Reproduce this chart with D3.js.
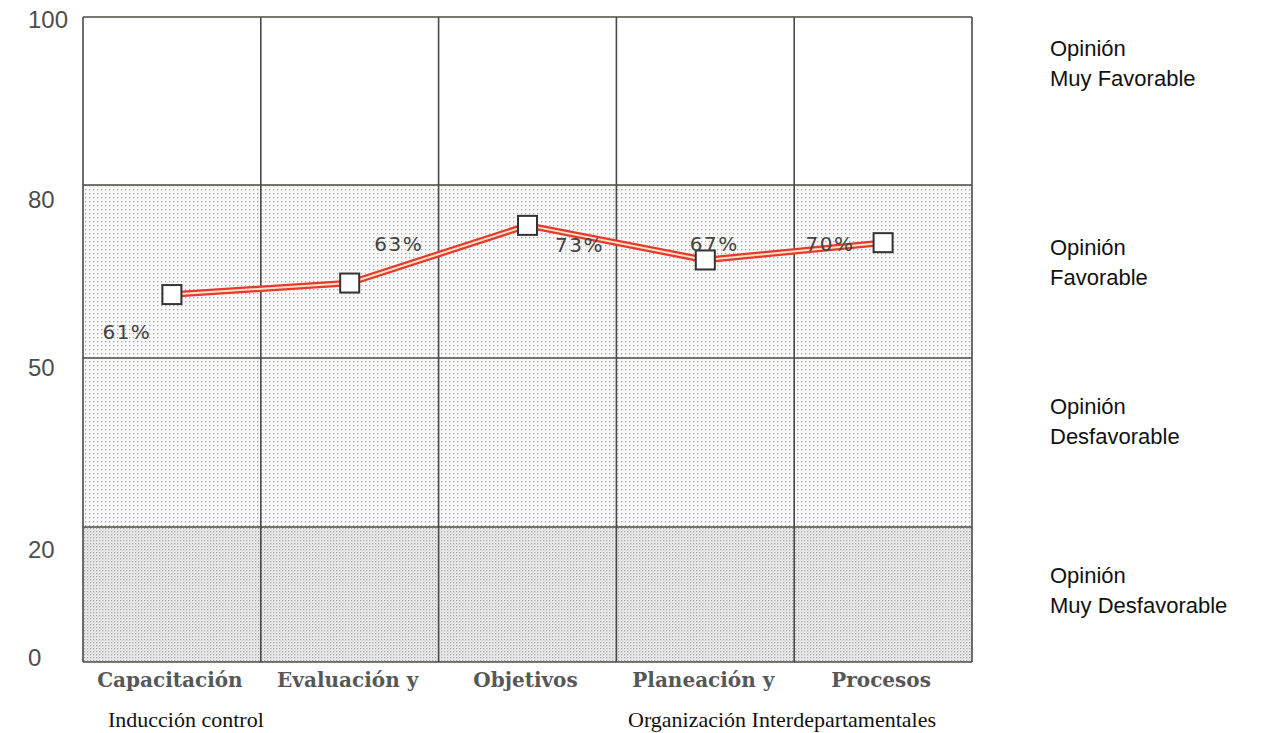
<!DOCTYPE html>
<html>
<head>
<meta charset="utf-8">
<script src="https://cdn.jsdelivr.net/npm/d3@7"></script>
<style>
  html, body { margin: 0; padding: 0; background: #fff; }
  svg { display: block; }
</style>
</head>
<body>
<svg id="chart" width="1282" height="733"></svg>
<script>
// Survey areas and the favourable-opinion percentage for each
const categories = ["Capacitación", "Evaluación y", "Objetivos", "Planeación y", "Procesos"];
const values = [61, 63, 73, 67, 70];
const valueLabels = ["61%", "63%", "73%", "67%", "70%"];
const secondLine = ["Inducción control", "Organización Interdepartamentales"];

// Opinion bands (upper bound -> lower bound) and their names
const bandBreaks = [100, 80, 50, 20, 0];
const tickValues = [100, 80, 50, 20, 0];
const bandNames = [
  ["Opinión", "Muy Favorable"],
  ["Opinión", "Favorable"],
  ["Opinión", "Desfavorable"],
  ["Opinión", "Muy Desfavorable"]
];

const svg = d3.select("#chart");
const plotLeft = 83, plotRight = 972, plotTop = 17, plotBottom = 662;

// Piecewise scale: each opinion band gets its own vertical block
const y = d3.scaleLinear()
  .domain([0, 20, 50, 80, 100])
  .range([plotBottom, 527, 358, 185, plotTop]);

const x = d3.scaleBand().domain(categories).range([plotLeft, plotRight]).padding(0);

// Fill patterns for the bands
const defs = svg.append("defs");
const light = defs.append("pattern").attr("id", "dotsLight")
  .attr("patternUnits", "userSpaceOnUse").attr("width", 4).attr("height", 4);
light.append("rect").attr("width", 4).attr("height", 4).attr("fill", "#f9f9f9");
light.append("rect").attr("x", 1).attr("y", 1).attr("width", 1.3).attr("height", 1.3).attr("fill", "#a6a6a6");

const dense = defs.append("pattern").attr("id", "dotsDense")
  .attr("patternUnits", "userSpaceOnUse").attr("width", 3).attr("height", 3);
dense.append("rect").attr("width", 3).attr("height", 3).attr("fill", "#f1f1f1");
dense.append("rect").attr("x", 0).attr("y", 0).attr("width", 1.3).attr("height", 1.3).attr("fill", "#a4a4a4");
dense.append("rect").attr("x", 1.5).attr("y", 1.5).attr("width", 1.1).attr("height", 1.1).attr("fill", "#c4c4c4");

const bandFills = ["#ffffff", "url(#dotsLight)", "url(#dotsLight)", "url(#dotsDense)"];
const bands = d3.pairs(bandBreaks);

svg.append("g").selectAll("rect")
  .data(bands)
  .join("rect")
  .attr("x", plotLeft)
  .attr("width", plotRight - plotLeft)
  .attr("y", d => y(d[0]))
  .attr("height", d => y(d[1]) - y(d[0]))
  .attr("fill", (d, i) => bandFills[i]);

// Grid: horizontal band edges and vertical column separators
const grid = svg.append("g").attr("stroke", "#4a4a44").attr("stroke-width", 1.6).attr("fill", "none");
grid.selectAll("line.h")
  .data(bandBreaks)
  .join("line")
  .attr("class", "h")
  .attr("x1", plotLeft).attr("x2", plotRight)
  .attr("y1", d => y(d)).attr("y2", d => y(d));
const colEdges = categories.map(c => x(c)).concat([plotRight]);
grid.selectAll("line.v")
  .data(colEdges)
  .join("line")
  .attr("class", "v")
  .attr("x1", d => d).attr("x2", d => d)
  .attr("y1", plotTop).attr("y2", plotBottom);

// Y tick labels, each nudged a little below its band edge
const tickNudge = [3, 15, 10, 23, -4];
svg.append("g").selectAll("text")
  .data(tickValues)
  .join("text")
  .attr("x", 28)
  .attr("y", (d, i) => y(d) + tickNudge[i])
  .attr("dy", "0.35em")
  .attr("font-family", "Liberation Sans, Arial, sans-serif")
  .attr("font-size", 24)
  .attr("fill", "#4d4d4d")
  .text(d => d);

// Category labels
svg.append("g").selectAll("text")
  .data(categories)
  .join("text")
  .attr("x", d => x(d) + x.bandwidth() / 2 - 2)
  .attr("y", 687)
  .attr("text-anchor", "middle")
  .attr("font-family", "DejaVu Serif, serif")
  .attr("font-weight", "bold")
  .attr("font-size", 20)
  .attr("fill", "#575757")
  .text(d => d);

// Second line of the category names
svg.append("text")
  .attr("x", 108).attr("y", 727)
  .attr("font-family", "Liberation Serif, Times New Roman, serif")
  .attr("font-size", 22).attr("fill", "#111")
  .text(secondLine[0]);
svg.append("text")
  .attr("x", 628).attr("y", 727)
  .attr("font-family", "Liberation Serif, Times New Roman, serif")
  .attr("font-size", 22).attr("fill", "#111")
  .text(secondLine[1]);

// Band names at the right
const names = svg.append("g")
  .attr("font-family", "Liberation Sans, Arial, sans-serif")
  .attr("font-size", 22).attr("fill", "#111");
bandNames.forEach((lines, i) => {
  const base = [56, 255, 414, 583][i];
  lines.forEach((t, j) => {
    names.append("text").attr("x", 1050).attr("y", base + j * 30).text(t);
  });
});

// Series line: red double stroke with a pale core
const pts = categories.map((c, i) => [x(c) + x.bandwidth() / 2, y(values[i])]);
const line = d3.line();
svg.append("path").attr("d", line(pts)).attr("fill", "none")
  .attr("stroke", "#e8392e").attr("stroke-width", 6.5).attr("stroke-linejoin", "round");
svg.append("path").attr("d", line(pts)).attr("fill", "none")
  .attr("stroke", "#fbe3c4").attr("stroke-width", 2).attr("stroke-linejoin", "round");

// Square markers
svg.append("g").selectAll("rect")
  .data(pts)
  .join("rect")
  .attr("x", d => d[0] - 9.5)
  .attr("y", d => d[1] - 9.5)
  .attr("width", 19).attr("height", 19)
  .attr("fill", "#fff")
  .attr("stroke", "#333")
  .attr("stroke-width", 2);

// Value labels, offset from their markers
const labelOffsets = [[-45, 44], [49, -32], [52, 27], [9, -9], [-53, 8]];
svg.append("g").selectAll("text")
  .data(pts)
  .join("text")
  .attr("x", (d, i) => d[0] + labelOffsets[i][0])
  .attr("y", (d, i) => d[1] + labelOffsets[i][1])
  .attr("text-anchor", "middle")
  .attr("font-family", "DejaVu Sans, sans-serif")
  .attr("font-size", 20)
  .attr("letter-spacing", 1.5)
  .attr("fill", "#444")
  .text((d, i) => valueLabels[i]);
</script>
</body>
</html>
